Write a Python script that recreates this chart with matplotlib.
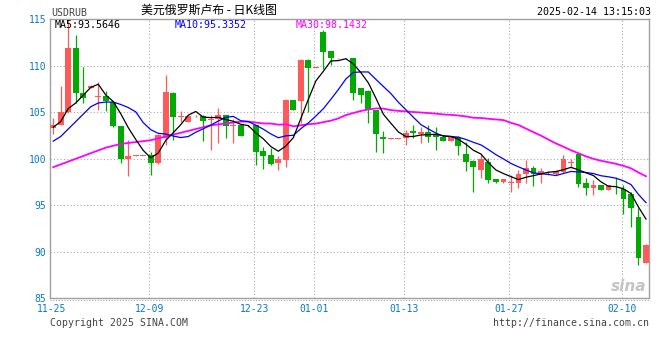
import numpy as np
import pandas as pd
import matplotlib
matplotlib.use("Agg")
import matplotlib.pyplot as plt
from matplotlib.lines import Line2D

# ---------------- data ----------------
opens = [103.35, 103.63, 104.99, 111.95, 107.04, 107.65, 106.60, 106.70, 106.10, 103.50,
         100.00, 100.30, 100.30, 100.40, 99.50, 102.20, 107.10, 104.50, 104.00, 104.55,
         104.60, 104.20, 104.24, 104.70, 103.50, 103.60, 103.50, 103.60, 100.84, 100.41,
         99.52, 99.90, 106.33, 106.22, 110.63, 109.80, 113.67, 111.60, 110.80, 110.80,
         110.80, 107.58, 107.30, 105.25, 102.31, 102.15, 102.15, 102.20, 102.99, 102.63,
         102.92, 102.63, 102.38, 101.95, 102.38, 100.52, 99.80, 98.80, 99.69, 97.79,
         97.47, 97.45, 97.40, 98.33, 98.97, 98.33, 98.42, 98.33, 98.54, 99.55,
         100.51, 97.43, 96.89, 97.18, 96.64, 97.20, 96.72, 96.21, 93.78, 88.83]
closes = [103.63, 104.99, 111.95, 107.04, 106.57, 107.83, 106.70, 106.20, 103.50, 100.00,
          100.35, 100.33, 100.32, 99.50, 102.60, 107.15, 104.50, 104.60, 104.60, 104.60,
          104.10, 104.25, 104.70, 103.50, 103.60, 102.50, 103.55, 100.76, 100.30, 99.48,
          99.98, 106.33, 105.25, 110.63, 109.80, 109.85, 111.52, 110.80, 110.82, 110.82,
          107.04, 106.86, 105.25, 102.67, 102.13, 102.20, 102.20, 102.74, 102.74, 102.92,
          102.38, 102.38, 101.95, 102.38, 101.41, 99.69, 99.15, 99.94, 97.72, 97.47,
          97.79, 97.50, 98.35, 98.97, 98.33, 98.69, 98.46, 98.69, 99.98, 99.60,
          97.32, 96.89, 97.18, 96.64, 97.18, 97.15, 95.68, 94.67, 89.37, 90.73]
highs = [104.35, 107.83, 115.00, 113.31, 109.90, 107.90, 108.30, 107.30, 106.20, 103.50,
         102.05, 100.40, 100.35, 100.70, 102.70, 109.00, 107.20, 105.10, 104.70, 104.70,
         104.70, 104.70, 105.42, 104.75, 104.26, 103.65, 103.60, 103.65, 101.30, 101.20,
         100.30, 106.40, 106.35, 110.70, 110.70, 109.90, 113.80, 111.60, 110.85, 110.85,
         110.85, 107.60, 107.35, 105.30, 103.00, 102.25, 102.25, 103.10, 103.63, 103.45,
         103.63, 103.45, 102.40, 102.40, 102.40, 101.84, 99.85, 100.41, 100.05, 97.85,
         97.85, 98.26, 98.80, 99.87, 99.22, 98.97, 98.70, 98.75, 100.41, 99.98,
         100.55, 97.97, 97.72, 97.20, 97.20, 98.00, 97.18, 96.46, 94.67, 90.80]
lows = [102.66, 103.60, 104.95, 105.96, 105.96, 107.60, 105.30, 105.10, 103.40, 99.50,
        98.10, 100.25, 100.28, 98.30, 99.45, 101.50, 102.00, 104.00, 103.95, 104.50,
        101.95, 100.94, 101.73, 102.20, 101.66, 102.45, 103.45, 99.35, 98.95, 99.30,
        98.80, 99.16, 105.20, 103.80, 105.00, 109.75, 109.62, 110.09, 110.75, 110.75,
        106.33, 105.97, 103.89, 100.77, 100.60, 102.10, 102.10, 101.48, 102.20, 101.73,
        101.84, 100.95, 101.90, 101.90, 100.41, 98.69, 96.47, 97.90, 97.36, 97.40,
        97.40, 96.47, 96.82, 97.43, 97.07, 97.36, 98.30, 98.30, 98.50, 98.97,
        97.00, 96.11, 96.11, 96.60, 96.60, 96.21, 94.06, 92.63, 88.58, 88.80]

# moving-average values at the start of the chart (window reaches before first candle)
ma5_head = [103.4, 104.0, 105.4, 106.0]
ma10_head = [101.9, 102.4, 103.2, 104.0, 104.8, 105.6, 106.0, 106.1, 106.1]
ma30_head = [99.1, 99.4, 99.7, 100.0, 100.3, 100.6, 100.9, 101.2, 101.4, 101.6,
             101.7, 101.8, 101.9, 102.0, 102.2, 102.4, 102.6, 102.8, 103.0, 103.2,
             103.4, 103.6, 103.7, 103.8, 103.9, 104.0, 104.0, 103.9, 103.8]
ma_names = ["MA5", "MA10", "MA30"]
ma_last = ["93.5646", "95.3352", "98.1432"]

date_labels = ["11-25", "12-09", "12-23", "01-01", "01-13", "01-27", "02-10"]
date_index = [0, 13, 27, 35, 47, 61, 76]
y_ticks = [85, 90, 95, 100, 105, 110, 115]

# ---------------- styling ----------------
RED = "#ff5a5a"
GREEN = "#00aa00"
BLUE_TXT = "#0a78c8"
GRID = "#aaaaaa"
BORDER = "#a0a0a0"
MONO = "DejaVu Sans Mono"

W, H = 660, 360
fig = plt.figure(figsize=(W / 100, H / 100), dpi=100)
L_px, R_px, T_px, B_px = 50.3, 649.3, 19.3, 298.3
ax = fig.add_axes([L_px / W, 1 - B_px / H, (R_px - L_px) / W, (B_px - T_px) / H])

o = np.array(opens); c = np.array(closes); h = np.array(highs); l = np.array(lows)
n = len(c)
x = np.arange(n)
up = c >= o
cols = np.where(up, RED, GREEN)

# grid
for yv in y_ticks[1:-1]:
    ax.axhline(yv, color=GRID, lw=0.8, ls=(0, (1, 2)), zorder=0)
for xi in date_index[1:]:
    ax.axvline(xi - 0.2, color=GRID, lw=0.8, ls=(0, (1, 2)), zorder=0)

# candles
ax.vlines(x, l, h, colors=cols, lw=0.9, zorder=2)
body_lo = np.minimum(o, c)
body_h = np.maximum(np.abs(c - o), 0.08)
ax.bar(x, body_h, bottom=body_lo, width=0.78, color=cols, edgecolor=cols, lw=0, zorder=3)

# moving averages
s = pd.Series(c)
ma5 = s.rolling(5).mean().to_numpy(); ma5[:4] = ma5_head
ma10 = s.rolling(10).mean().to_numpy(); ma10[:9] = ma10_head
ma30 = s.rolling(30).mean().to_numpy(); ma30[:29] = ma30_head
ax.plot(x, ma30, color="#ff00ff", lw=1.3, zorder=4)
ax.plot(x, ma10, color="#0000ff", lw=0.9, zorder=5)
ax.plot(x, ma5, color="black", lw=0.9, zorder=6)

ax.set_xlim(-0.39, n - 1 + 0.44)
ax.set_ylim(85, 115)

for sp in ax.spines.values():
    sp.set_color(BORDER)
    sp.set_linewidth(1.0)

ax.set_yticks(y_ticks)
ax.set_yticklabels([str(v) for v in y_ticks], color=BLUE_TXT, fontsize=7, family=MONO)
ax.set_xticks([i - 0.2 for i in date_index])
ax.set_xticklabels(date_labels, color=BLUE_TXT, fontsize=7, family=MONO)
ax.tick_params(axis="y", length=0, pad=3)
ax.tick_params(axis="x", length=0, pad=4)

# dotted line under the axis
fig.add_artist(Line2D([L_px / W, R_px / W], [1 - 300.3 / H] * 2, color=GRID, lw=0.8,
                      ls=(0, (1, 1.5))))

# sina watermark
ax.text(0.995, 0.015, "sina", transform=ax.transAxes, ha="right", va="bottom",
        fontsize=11, fontstyle="italic", fontweight="bold", color="#c4c4c4", zorder=1)

# header texts
fig.text(51.5 / W, 1 - 12.5 / H, "USDRUB", fontsize=7.1, family=MONO, color="#444444",
         ha="left", va="center")
fig.text(141 / W, 1 - 10 / H, "美元俄罗斯卢布 - 日K线图", fontsize=8.6,
         family=["Noto Sans CJK SC", "DejaVu Sans"], color="black", ha="left", va="center")
fig.text(651 / W, 1 - 12 / H, "2025-02-14 13:15:03", fontsize=7.2, family=MONO,
         color="black", ha="right", va="center")

# MA legend inside the plot
ma_x = [55, 175, 295.5]
ma_col = ["black", "#0000ff", "#ff00ff"]
for name, val, xp, cc in zip(ma_names, ma_last, ma_x, ma_col):
    fig.text(xp / W, 1 - 24.5 / H, f"{name}:{val}", fontsize=7.2, family=MONO,
             color=cc, ha="left", va="center")

# footer
fig.text(50 / W, 1 - 323.5 / H, "Copyright 2025 SINA.COM", fontsize=7.1, family=MONO,
         color="#444444", ha="left", va="center")
fig.text(649 / W, 1 - 323.5 / H, "http://finance.sina.com.cn", fontsize=7.1, family=MONO,
         color="#444444", ha="right", va="center")

fig.savefig("out.png", dpi=100, facecolor="white")
